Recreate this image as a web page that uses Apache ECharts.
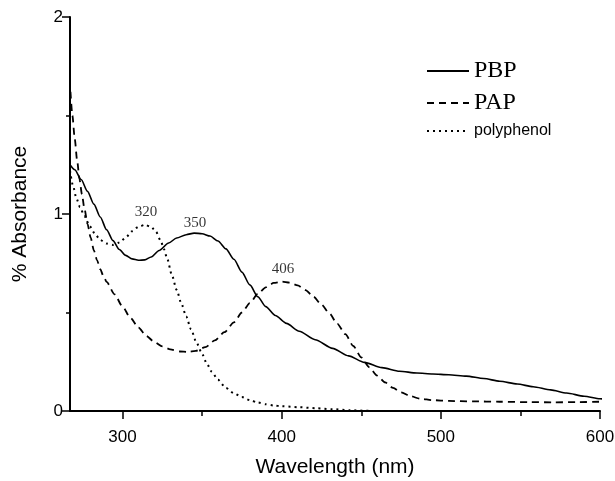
<!DOCTYPE html>
<html>
<head>
<meta charset="utf-8">
<script src="https://cdn.jsdelivr.net/npm/echarts@6/dist/echarts.min.js"></script>
<style>html,body{margin:0;padding:0;background:#fff;}#c{width:615px;height:481px;}</style>
</head>
<body>
<div id="c"></div>
<script>
// ---- data ----
var pbp = [[267,1.25],[270,1.225],[274,1.175],[278,1.115],[282,1.05],[286,0.985],[290,0.92],[294,0.865],[298,0.82],[302,0.79],[306,0.772],[310,0.765],[314,0.767],[318,0.782],[323,0.815],[329,0.853],[334,0.878],[340,0.895],[345,0.903],[350,0.9],[355,0.888],[360,0.863],[365,0.823],[370,0.77],[375,0.705],[380,0.64],[385,0.58],[390,0.53],[396,0.485],[403,0.445],[411,0.405],[421,0.362],[432,0.318],[442,0.28],[452,0.247],[463,0.22],[474,0.202],[485,0.193],[495,0.188],[505,0.184],[516,0.177],[527,0.165],[537,0.151],[548,0.137],[558,0.123],[569,0.107],[579,0.091],[590,0.075],[600,0.062],[606,0.055]];
var pap = [[267.3,1.62],[268.5,1.5],[270,1.38],[271.5,1.27],[273,1.175],[274.5,1.1],[276,1.03],[278,0.95],[280,0.88],[282,0.815],[284,0.765],[286,0.72],[288,0.685],[290,0.655],[295,0.592],[300,0.53],[305,0.473],[310,0.423],[315,0.381],[320,0.35],[325,0.328],[330,0.313],[336,0.302],[341,0.3],[346,0.305],[352,0.324],[358,0.358],[364,0.40],[370,0.45],[375,0.50],[380,0.548],[385,0.595],[390,0.628],[395,0.65],[400,0.657],[405,0.652],[410,0.638],[415,0.614],[420,0.58],[425,0.54],[430,0.495],[435,0.442],[440,0.39],[445,0.33],[450,0.272],[455,0.222],[460,0.18],[465,0.145],[470,0.117],[475,0.095],[481,0.075],[487,0.062],[495,0.055],[505,0.051],[520,0.049],[537,0.047],[555,0.045],[570,0.044],[585,0.045],[600,0.047]];
var polyphenol = [[267,1.22],[269,1.14],[271,1.08],[273.3,1.035],[276,0.99],[279.6,0.936],[283,0.895],[286,0.868],[290,0.85],[294,0.843],[298,0.855],[302,0.88],[306,0.913],[310,0.935],[314,0.945],[318,0.935],[321,0.91],[324,0.865],[326,0.822],[328,0.775],[331,0.69],[334,0.615],[337,0.545],[340,0.48],[343,0.415],[346.6,0.345],[350,0.29],[353,0.24],[356,0.2],[360,0.158],[365,0.117],[370,0.09],[375,0.071],[380,0.055],[385,0.043],[390,0.034],[395,0.028],[400,0.024],[411,0.019],[422,0.014],[432,0.009],[443,0.004],[453,0.001],[458,0]];
var annoX = [314.8, 345.5, 400.8];
var annoY = [1.012, 0.956, 0.719];
var annoText = ['320', '350', '406'];
var xMajorTicks = [300, 400, 500, 600];
var xMinorTicks = [350, 450, 550];
var xMin = 267, xMax = 600, yMin = 0, yMax = 2;

var annoData = annoX.map(function (x, i) { return [x, annoY[i], annoText[i]]; });

var chart = echarts.init(document.getElementById('c'), null, {renderer: 'canvas'});
var sans = 'Liberation Sans, Arial, sans-serif';
var serif = 'Liberation Serif, Times New Roman, serif';
chart.setOption({
  animation: false,
  backgroundColor: '#fff',
  grid: {left: 70, right: 15, top: 17, bottom: 70, containLabel: false, outerBoundsMode: 'none'},
  legend: {
    orient: 'vertical', left: 421, top: 54, itemWidth: 42, itemHeight: 14, itemGap: 8,
    itemStyle: {opacity: 0},
    data: [
      {name: 'PBP', textStyle: {fontFamily: serif, fontSize: 24, color: '#000'}},
      {name: 'PAP', textStyle: {fontFamily: serif, fontSize: 24, color: '#000'}},
      {name: 'polyphenol', textStyle: {fontFamily: sans, fontSize: 16, color: '#000'}}
    ]
  },
  xAxis: [{
    type: 'value', min: xMin, max: xMax, position: 'bottom',
    name: 'Wavelength (nm)', nameLocation: 'middle', nameGap: 46,
    nameTextStyle: {fontFamily: sans, fontSize: 21, color: '#000'},
    axisLine: {show: true, lineStyle: {color: '#000', width: 2}},
    axisTick: {show: true, length: 8, customValues: xMajorTicks, lineStyle: {color: '#000', width: 1.5}},
    axisLabel: {customValues: xMajorTicks, fontFamily: sans, fontSize: 17, color: '#000', margin: 18},
    splitLine: {show: false}
  }, {
    type: 'value', min: xMin, max: xMax, position: 'bottom',
    axisLine: {show: false},
    axisTick: {show: true, length: 5, customValues: xMinorTicks, lineStyle: {color: '#000', width: 1.5}},
    axisLabel: {show: false},
    splitLine: {show: false}
  }],
  yAxis: {
    type: 'value', min: yMin, max: yMax, interval: 1,
    name: '% Absorbance', nameLocation: 'middle', nameGap: 39, nameRotate: 90,
    nameTextStyle: {fontFamily: sans, fontSize: 21, color: '#000'},
    axisLine: {show: true, lineStyle: {color: '#000', width: 2}},
    axisTick: {show: true, length: 8, lineStyle: {color: '#000', width: 1.5}},
    minorTick: {show: true, splitNumber: 2, length: 4, lineStyle: {color: '#000', width: 1.5}},
    axisLabel: {fontFamily: sans, fontSize: 17, color: '#000', margin: 7},
    splitLine: {show: false}
  },
  series: [
    {name: 'PBP', type: 'line', data: pbp, symbol: 'none', smooth: 0.25, smoothMonotone: 'x', clip: false,
     lineStyle: {color: '#000', width: 1.6, type: 'solid'}, itemStyle: {color: '#000'}},
    {name: 'PAP', type: 'line', data: pap, symbol: 'none', smooth: 0.25, smoothMonotone: 'x', clip: false,
     lineStyle: {color: '#000', width: 1.8, type: [7, 5]}, itemStyle: {color: '#000'}},
    {name: 'polyphenol', type: 'line', data: polyphenol, symbol: 'none', smooth: 0.25, smoothMonotone: 'x', clip: false,
     lineStyle: {color: '#000', width: 2, type: [2, 4]}, itemStyle: {color: '#000'}},
    {name: 'peaks', type: 'scatter', data: annoData, symbol: 'circle', symbolSize: 1,
     itemStyle: {color: 'rgba(0,0,0,0)'}, silent: true,
     label: {show: true, position: 'inside', formatter: function (p) { return p.value[2]; },
             fontFamily: serif, fontSize: 15, color: '#000'}}
  ]
});
</script>
</body>
</html>
